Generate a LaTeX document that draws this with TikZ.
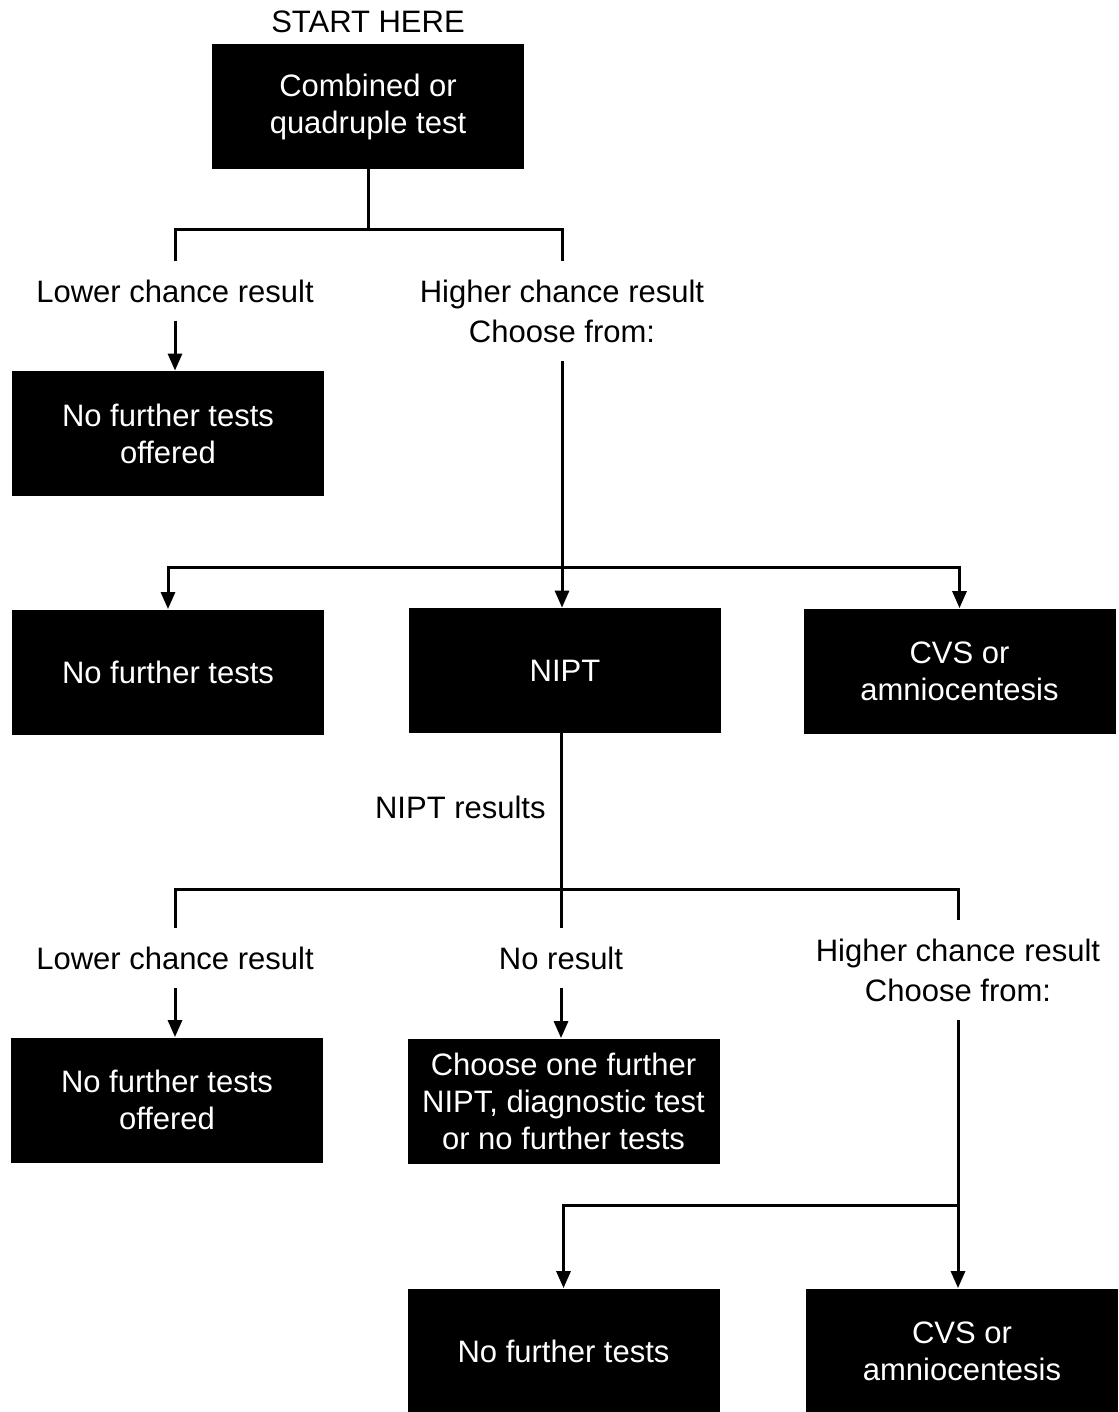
\documentclass[tikz,border=0pt]{standalone}
\usepackage{fontspec}
\setmainfont{Liberation Sans}
\usetikzlibrary{calc}
\usetikzlibrary{positioning}
\usetikzlibrary{arrows.meta}

\tikzset{
  box/.style={fill=black, text=white, minimum width=156pt, minimum height=62.5pt,
    inner sep=0pt, align=center, font=\fontsize{15.5}{18.5}\selectfont},
  lbl/.style={align=center, inner sep=9pt, font=\fontsize{15.5}{20}\selectfont},
  wire/.style={line width=1.5pt},
  arr/.style={line width=1.5pt, -{Triangle[width=7pt,length=8.5pt]}}
}

\begin{document}
\begin{tikzpicture}[x=0.5pt, y=-0.5pt]
            \useasboundingbox (0,0) rectangle (1118,1412);

            % Start
            \node[lbl, inner sep=0pt] (start) at (368,22) {START HERE};
            \node[box] (combo) at (368,106.5) {Combined or\\quadruple test};

            % First result
            \node[lbl] (lowA) at (175,291) {Lower chance result};
            \node[lbl] (highA) at (562,311) {Higher chance result\\Choose from:};
            \node[box] (offA) at (168,433.5) {No further tests\\offered};

            \coordinate (jA) at (368,230);
            \draw[wire] (combo.south) -- (jA);
            \draw[wire] (lowA.north) |- (jA) -| (highA.north);
            \draw[arr] (lowA.south) -- (lowA.south |- offA.north);

            % Choices
            \node[box] (nofA) at (168,672) {No further tests};
            \node[box] (nipt) at (565,670.5) {NIPT};
            \node[box] (cvsA) at (959.5,671) {CVS or\\amniocentesis};

            \coordinate (jB) at (562,567);
            \draw[arr] (highA.south) -- (highA.south |- nipt.north);
            \draw[arr] (jB) -| (nofA.north);
            \draw[arr] (jB) -| (cvsA.north);

            % NIPT results
            \node[lbl, inner sep=0pt, left] (res) at (546,807) {NIPT results};
            \node[lbl] (lowB) at (175,958) {Lower chance result};
            \node[lbl] (nores) at (561,958) {No result};
            \node[lbl] (highB) at (958,970) {Higher chance result\\Choose from:};

            \coordinate (jC) at (561,889);
            \draw[wire] (nipt.south -| nores.north) -- (nores.north);
            \draw[wire] (lowB.north) |- (jC) -| (highB.north);

            \node[box] (offB) at (167,1100) {No further tests\\offered};
            \node[box] (choose) at (563.5,1101) {Choose one further\\NIPT, diagnostic test\\or no further tests};
            \draw[arr] (lowB.south) -- (lowB.south |- offB.north);
            \draw[arr] (nores.south) -- (nores.south |- choose.north);

            % Last choices
            \node[box] (nofB) at (563.5,1351) {No further tests};
            \node[box] (cvsB) at (962,1351) {CVS or\\amniocentesis};

            \coordinate (jD) at (958,1205);
            \draw[arr] (highB.south) -- (highB.south |- cvsB.north);
            \draw[arr] (jD) -| (nofB.north);
        \end{tikzpicture}
\end{document}
